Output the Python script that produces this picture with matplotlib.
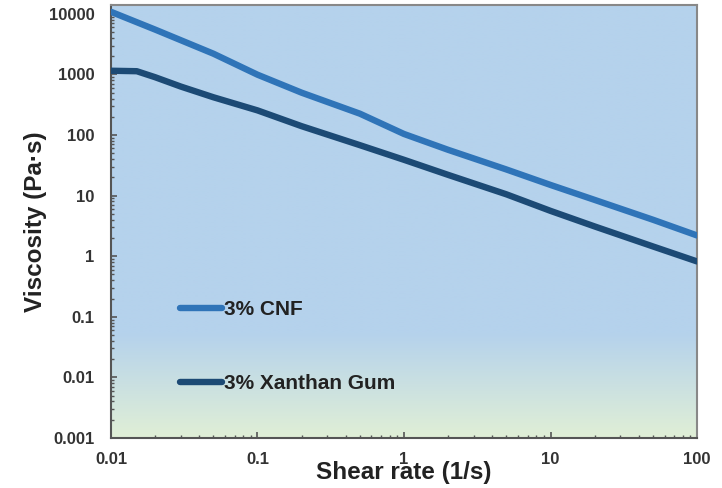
import numpy as np
import matplotlib.pyplot as plt
from matplotlib.ticker import LogLocator, FixedFormatter, FixedLocator, NullFormatter

plt.rcParams['font.family'] = ['Liberation Sans', 'DejaVu Sans']

# shear rate (1/s) and viscosity (Pa·s)
cnf_rate = [0.01, 0.02, 0.05, 0.1, 0.2, 0.5, 1, 2, 5, 10, 20, 50, 100]
cnf_visc = [10800, 5500, 2200, 990, 500, 225, 104, 57, 27, 15, 8.5, 4.0, 2.2]

xg_rate = [0.01, 0.015, 0.02, 0.03, 0.05, 0.1, 0.2, 0.5, 1, 2, 5, 10, 20, 50, 100]
xg_visc = [1150, 1130, 900, 630, 420, 255, 140, 68, 39, 22, 10.5, 5.6, 3.1, 1.45, 0.82]

x_ticks = [0.01, 0.1, 1, 10, 100]
x_labels = ["0.01", "0.1", "1", "10", "100"]
y_ticks = [0.001, 0.01, 0.1, 1, 10, 100, 1000, 10000]
y_labels = ["0.001", "0.01", "0.1", "1", "10", "100", "1000", "10000"]

fig = plt.figure(figsize=(7.22, 4.88), dpi=100)
ax = fig.add_axes([0.1537, 0.1025, 0.8117, 0.8873])

# background: blue fading into pale green near the bottom
top = np.array([181, 210, 236]) / 255
bot = np.array([224, 239, 214]) / 255
f = np.linspace(0, 1, 300)[:, None]          # 0 at bottom, 1 at top
w = np.clip(f / 0.24, 0, 1)
grad = (bot * (1 - w) + top * w)[::-1][:, None, :]
ax.imshow(grad, extent=[0, 1, 0, 1], transform=ax.transAxes,
          aspect='auto', zorder=0, interpolation='bilinear')

ax.plot(cnf_rate, cnf_visc, color='#2f74b8', lw=4.6, solid_capstyle='round',
        solid_joinstyle='round', label='3% CNF', zorder=3)
ax.plot(xg_rate, xg_visc, color='#1c4a75', lw=4.6, solid_capstyle='round',
        solid_joinstyle='round', label='3% Xanthan Gum', zorder=3)

ax.set_xscale('log')
ax.set_yscale('log')
ax.set_xlim(0.01, 100)
ax.set_ylim(0.001, 14000)

ax.xaxis.set_major_locator(FixedLocator(x_ticks))
ax.xaxis.set_major_formatter(FixedFormatter(x_labels))
ax.yaxis.set_major_locator(FixedLocator(y_ticks))
ax.yaxis.set_major_formatter(FixedFormatter(y_labels))
ax.xaxis.set_minor_locator(LogLocator(base=10, subs=np.arange(2, 10), numticks=20))
ax.yaxis.set_minor_locator(LogLocator(base=10, subs=np.arange(2, 10), numticks=20))
ax.xaxis.set_minor_formatter(NullFormatter())
ax.yaxis.set_minor_formatter(NullFormatter())

ax.tick_params(which='major', direction='in', length=4, width=1.2, color='#555555',
               labelsize=12)
ax.tick_params(axis='y', which='major', pad=12)
ax.tick_params(axis='x', which='major', pad=10)
ax.tick_params(which='minor', direction='in', length=2.5, width=1, color='#555555')
for lab in ax.get_xticklabels() + ax.get_yticklabels():
    lab.set_fontweight('bold')
    lab.set_color('#333333')
    lab.set_zorder(5)

for s in ['left', 'bottom']:
    ax.spines[s].set_color('#555555')
    ax.spines[s].set_linewidth(1.5)
for s in ['top', 'right']:
    ax.spines[s].set_color('#888888')
    ax.spines[s].set_linewidth(1.5)

# the "1" tick label sits over the axis title, as in the original
ax.set_xlabel('Shear rate (1/s)', fontsize=17.5, fontweight='bold', color='#222222', labelpad=-4)
ax.set_ylabel('Viscosity (Pa·s)', fontsize=17.5, fontweight='bold', color='#222222', labelpad=1)

leg = ax.legend(loc='upper left', bbox_to_anchor=(0.118, 0.318), frameon=False,
                prop={'weight': 'bold', 'size': 15},
                handlelength=2.0, handletextpad=0.1, labelspacing=2.65,
                borderpad=0, borderaxespad=0)
for t in leg.get_texts():
    t.set_color('#222222')

fig.savefig('out.png', dpi=100)
